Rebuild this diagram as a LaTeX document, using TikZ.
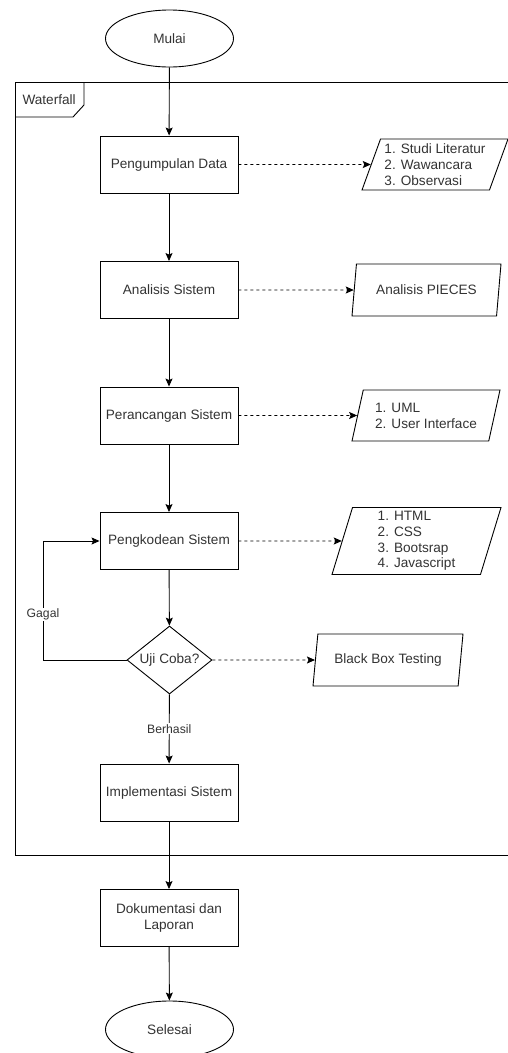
\documentclass[tikz,border=0pt]{standalone}
\usepackage{fontspec}
\setmainfont{Liberation Sans}
\usetikzlibrary{shapes.geometric,arrows.meta}

\begin{document}
\begin{tikzpicture}[x=1pt,y=-1pt,
  every node/.style={font=\fontsize{13.6}{15.8}\selectfont,text=black!80},
  line/.style={line width=0.9pt,-{Stealth[length=8pt,width=7pt,inset=1.5pt]}},
  dotline/.style={line width=0.9pt,dash pattern=on 3pt off 3pt,-{Stealth[length=8pt,width=7pt,inset=1.5pt]}},
  terminal/.style={draw,line width=0.9pt,ellipse,minimum width=128pt,minimum height=57pt,inner sep=0pt},
  process/.style={draw,line width=0.9pt,rectangle,minimum width=138pt,minimum height=57pt,inner sep=0pt,align=center},
  decision/.style={draw,line width=0.9pt,diamond,aspect=1.25,minimum width=85pt,minimum height=68pt,inner sep=0pt},
  data/.style={draw,line width=0.9pt,trapezium,trapezium left angle=66,trapezium right angle=114,
    trapezium stretches body,minimum height=51pt,inner sep=0pt,align=left},
  lbl/.style={fill=white,inner sep=1pt,font=\fontsize{12.2}{14}\selectfont}]
\useasboundingbox (0,0) rectangle (508,1053); % la page

% le cadre Waterfall
\draw[line width=0.9pt] (508,82)--(15,82)--(15,855)--(508,855);
\draw[line width=0.9pt] (15,117)--(73,117)--(84,105)--(84,82);
\node[anchor=west] (waterfall) at (19,100) {Waterfall};

% les etapes
\node[terminal] (mulai) at (169.5,38.5) {Mulai};
\node[process] (pengumpulan) at (169,164.5) {Pengumpulan Data};
\node[process] (analisis) at (169,290) {Analisis Sistem};
\node[process] (perancangan) at (169,415.5) {Perancangan Sistem};
\node[process] (pengkodean) at (169,541) {Pengkodean Sistem};
\node[decision] (uji) at (169.5,660) {Uji Coba?};
\node[process] (implementasi) at (169,792.5) {Implementasi Sistem};
\node[process] (dokumentasi) at (169,918) {Dokumentasi dan\\Laporan};
\node[terminal] (selesai) at (169.5,1029.5) {Selesai};

% les sorties
\node[data,minimum width=146pt] (literatur) at (435,164.5) {1. Studi Literatur\\2. Wawancara\\3. Observasi};
\node[data,minimum width=149pt,minimum height=52pt] (pieces) at (426.5,290) {Analisis PIECES};
\node[data,minimum width=148pt] (uml) at (426,415.5) {1. UML\\2. User Interface};
\node[data,minimum width=169pt,minimum height=67pt,trapezium left angle=71,trapezium right angle=109] (web) at (416.5,541) {1. HTML\\2. CSS\\3. Bootsrap\\4. Javascript};
\node[data,minimum width=150pt,minimum height=52pt,trapezium left angle=69,trapezium right angle=111] (blackbox) at (388,660) {Black Box Testing};

% les fleches
\draw[line] (mulai) -- (pengumpulan);
\draw[line] (pengumpulan) -- (analisis);
\draw[line] (analisis) -- (perancangan);
\draw[line] (perancangan) -- (pengkodean);
\draw[line] (pengkodean) -- (uji);
\draw[line] (uji) -- node[lbl,pos=0.5]{Berhasil} (implementasi);
\draw[line] (implementasi) -- (dokumentasi);
\draw[line] (dokumentasi) -- (selesai);
\coordinate (gagalpt) at (43,660);
\draw[line] (uji.west) -- (gagalpt) -- node[lbl,pos=0.38]{Gagal} (gagalpt |- pengkodean.west) -- (pengkodean.west);

\draw[dotline] (pengumpulan.east) -- (literatur.west);
\draw[dotline] (analisis.east) -- (pieces.west);
\draw[dotline] (perancangan.east) -- (uml.west);
\draw[dotline] (pengkodean.east) -- (web.west);
\draw[dotline] (uji.east) -- (blackbox.west);
\end{tikzpicture}
\end{document}
